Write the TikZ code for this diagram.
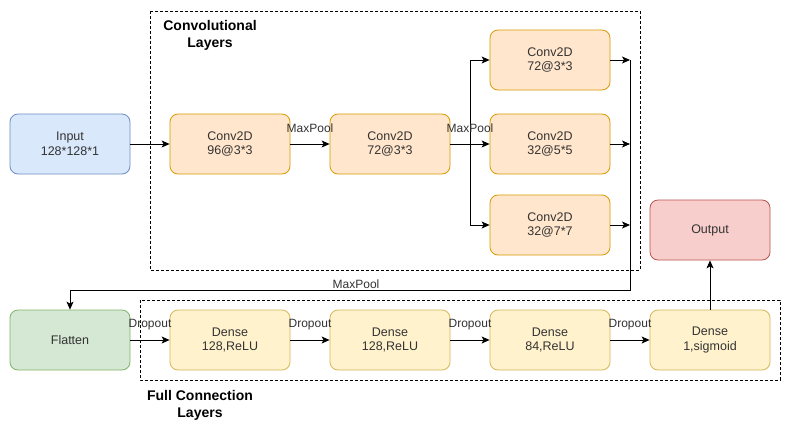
\documentclass[tikz,border=0pt]{standalone}
\usepackage{fontspec}
\setmainfont{Liberation Sans}
\usetikzlibrary{arrows.meta,positioning}
\definecolor{bluef}{HTML}{DAE8FC}\definecolor{blued}{HTML}{6C8EBF}
\definecolor{orangef}{HTML}{FFE6CC}\definecolor{oranged}{HTML}{D79B00}
\definecolor{greenf}{HTML}{D5E8D4}\definecolor{greend}{HTML}{82B366}
\definecolor{redf}{HTML}{F8CECC}\definecolor{redd}{HTML}{B85450}
\definecolor{yellowf}{HTML}{FFF2CC}\definecolor{yellowd}{HTML}{D6B656}
\definecolor{txt}{HTML}{333333}
\tikzset{
  box/.style={draw, rounded corners=8pt, minimum width=120pt, minimum height=60pt,
    align=center, font=\fontsize{12.5}{14.5}\selectfont, text=txt, line width=0.8pt, inner sep=0pt},
  bluebox/.style={box, fill=bluef, draw=blued},
  orangebox/.style={box, fill=orangef, draw=oranged},
  greenbox/.style={box, fill=greenf, draw=greend},
  redbox/.style={box, fill=redf, draw=redd},
  yellowbox/.style={box, fill=yellowf, draw=yellowd},
  arr/.style={-{Stealth[length=8pt,width=7pt,inset=2pt]}, line width=0.8pt},
  ln/.style={line width=0.8pt},
  lbl/.style={font=\fontsize{12}{14}\selectfont, text=txt, inner sep=0pt},
  group/.style={draw, dashed, line width=0.8pt, dash pattern=on 3pt off 2pt},
  title/.style={font=\fontsize{14}{17}\selectfont\bfseries, align=center, inner sep=0pt}
}
\begin{document}
\begin{tikzpicture}[x=1pt, y=-1pt]
\useasboundingbox (0,0) rectangle (791,434);
\fill[white] (0,0) rectangle (791,434);
% groups
\draw[group] (150,11) rectangle (640,270);
\draw[group] (140,300) rectangle (780,380);
\node[title] (tconv) at (210,35) {Convolutional\\Layers};
\node[title] (tfc) at (200,405) {Full Connection\\Layers};
% nodes
\node[bluebox] (in) at (70,144) {Input\\128*128*1};
\node[orangebox] (c1) at (230,144) {Conv2D\\96@3*3};
\node[orangebox] (c2) at (390,144) {Conv2D\\72@3*3};
\node[orangebox] (c3a) at (550,60) {Conv2D\\72@3*3};
\node[orangebox] (c3b) at (550,144) {Conv2D\\32@5*5};
\node[orangebox] (c3c) at (550,225) {Conv2D\\32@7*7};
\node[redbox] (out) at (710,230) {Output};
\node[greenbox] (fl) at (70,340) {Flatten};
\node[yellowbox] (d1) at (230,340) {Dense\\128,ReLU};
\node[yellowbox] (d2) at (390,340) {Dense\\128,ReLU};
\node[yellowbox] (d3) at (550,340) {Dense\\84,ReLU};
\node[yellowbox] (d4) at (710,340) {Dense\\1,sigmoid};
% connectors
\draw[arr] (in) -- (c1);
\draw[arr] (c1) -- (c2);
\node[lbl] (l1) at (310,128) {MaxPool};
\coordinate (jn) at (470,144);
\draw[ln] (c2.east) -- (jn);
\draw[arr] (jn) |- (c3a.west);
\draw[arr] (jn) -- (c3b.west);
\draw[arr] (jn) |- (c3c.west);
\node[lbl] (l2) at (470,128) {MaxPool};
\coordinate (mtop) at (630,60);
\coordinate (mbot) at (630,290);
\draw[arr] (c3a.east) -- (c3a.east -| mtop);
\draw[arr] (c3b.east) -- (c3b.east -| mtop);
\draw[arr] (c3c.east) -- (c3c.east -| mtop);
\draw[arr] (mtop) -- (mbot) -| (fl.north);
\node[lbl] (l3) at (356,284) {MaxPool};
\draw[arr] (fl) -- (d1);
\node[lbl] (p1) at (150,325) {Dropout};
\draw[arr] (d1) -- (d2);
\node[lbl] (p2) at (310,325) {Dropout};
\draw[arr] (d2) -- (d3);
\node[lbl] (p3) at (470,325) {Dropout};
\draw[arr] (d3) -- (d4);
\node[lbl] (p4) at (630,325) {Dropout};
\draw[arr] (d4) -- (out);
\end{tikzpicture}
\end{document}
